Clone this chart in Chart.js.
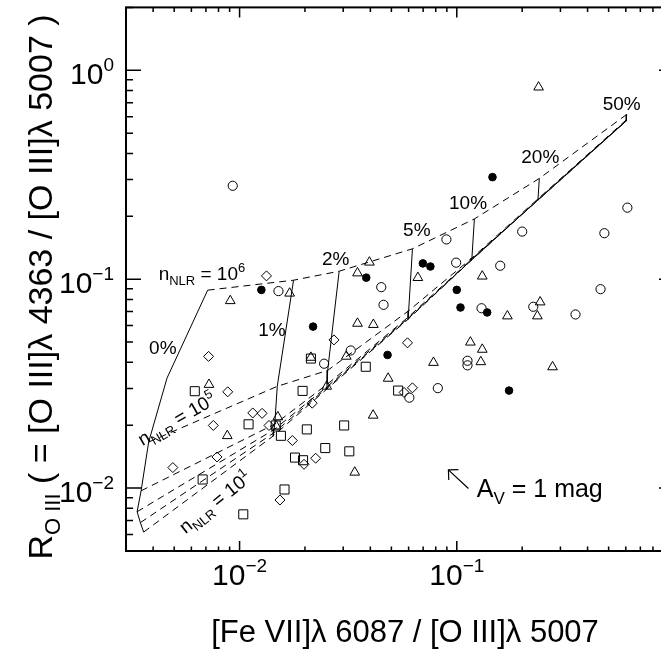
<!DOCTYPE html>
<html>
<head>
<meta charset="utf-8">
<script src="https://cdn.jsdelivr.net/npm/chart.js@4.4.0/dist/chart.umd.min.js"></script>
<style>
  html, body { margin: 0; padding: 0; background: #fff; overflow: hidden; }
  #wrap { width: 661px; height: 660px; overflow: hidden; }
</style>
</head>
<body>
<div id="wrap"><canvas id="chart" width="700" height="660"></canvas></div>
<script>
// axis ranges
const X_MIN = 0.003, X_MAX = 1;
const Y_MIN = 0.005, Y_MAX = 2;
const xLabelTicks = [0.01, 0.1];
const xLabelExp = ['\u22122', '\u22121'];
const yLabelTicks = [1, 0.1, 0.01];
const yLabelExp = ['0', '\u22121', '\u22122'];

// observed objects
const openCircleX = [0.0093, 0.0151, 0.0896, 0.0993, 0.0449, 0.0460, 0.130, 0.200, 0.610, 0.478, 0.1585, 0.459, 0.225, 0.352, 0.112, 0.112, 0.0818, 0.0605, 0.0245, 0.0325];
const openCircleY = [0.280, 0.0877, 0.155, 0.120, 0.0916, 0.0754, 0.0726, 0.169, 0.220, 0.166, 0.116, 0.0896, 0.0738, 0.0678, 0.0407, 0.0387, 0.0301, 0.0271, 0.0394, 0.0456];

const filledCircleX = [0.0126, 0.0383, 0.0698, 0.0756, 0.100, 0.104, 0.0218, 0.146, 0.138, 0.0480, 0.174];
const filledCircleY = [0.0889, 0.1017, 0.119, 0.115, 0.0889, 0.0732, 0.0593, 0.308, 0.0693, 0.0434, 0.0293];

const triangleX = [0.238, 0.00906, 0.0170, 0.0396, 0.0349, 0.0662, 0.131, 0.0349, 0.0413, 0.171, 0.242, 0.235, 0.1155, 0.131, 0.0781, 0.129, 0.276, 0.0483, 0.0412, 0.0339, 0.0310, 0.0213, 0.0252, 0.00723, 0.00878, 0.0150, 0.01475];
const triangleY = [0.830, 0.0788, 0.0856, 0.1205, 0.107, 0.1017, 0.1033, 0.0614, 0.0606, 0.0666, 0.0777, 0.0666, 0.0499, 0.0461, 0.0399, 0.0402, 0.038, 0.0335, 0.0223, 0.0119, 0.0427, 0.0422, 0.0307, 0.0313, 0.0178, 0.0219, 0.0198];

const diamondX = [0.0133, 0.0072, 0.00882, 0.00757, 0.0115, 0.0127, 0.01366, 0.00493, 0.00787, 0.01534, 0.0175, 0.0198, 0.0272, 0.0593, 0.0572, 0.0625, 0.0216, 0.0224];
const diamondY = [0.1037, 0.0427, 0.0289, 0.01995, 0.0229, 0.0228, 0.01995, 0.01254, 0.0141, 0.00877, 0.0169, 0.0130, 0.0512, 0.0496, 0.0287, 0.0302, 0.0255, 0.0139];

const squareX = [0.00622, 0.0110, 0.00676, 0.0104, 0.0161, 0.01467, 0.0155, 0.0180, 0.0195, 0.0204, 0.0196, 0.0213, 0.0381, 0.0537, 0.0303, 0.0248, 0.0320];
const squareY = [0.0291, 0.0202, 0.0110, 0.00749, 0.00985, 0.01995, 0.0178, 0.0140, 0.0292, 0.0191, 0.0136, 0.0417, 0.0381, 0.0293, 0.01995, 0.01555, 0.0150];

// model grid: fraction of high-density component, one row per n_NLR
const pctLabels = ['0%', '1%', '2%', '5%', '10%', '20%', '50%'];
const n6X = [0.00713, 0.01772, 0.02874, 0.0625, 0.1205, 0.2399, 0.6053];
const n6Y = [0.0886, 0.0989, 0.1092, 0.1398, 0.1943, 0.3037, 0.6146];
const n5X = [0.003815, 0.01491, 0.02544, 0.06003, 0.1174, 0.2366, 0.604];
const n5Y = [0.01662, 0.0307, 0.0366, 0.0706, 0.1263, 0.2425, 0.580];
const n4X = [0.003521, 0.01452, 0.0253, 0.0597, 0.1163, 0.2366, 0.6028];
const n4Y = [0.009708, 0.02024, 0.03138, 0.06577, 0.1238, 0.2406, 0.5748];
const n3X = [0.003375, 0.0144, 0.02523, 0.05964, 0.1162, 0.2366, 0.6022];
const n3Y = [0.00771, 0.01905, 0.03053, 0.06505, 0.1231, 0.2399, 0.5723];
const n2X = [0.003494, 0.01432, 0.02513, 0.05958, 0.1161, 0.2363, 0.6016];
const n2Y = [0.006837, 0.01834, 0.03003, 0.06457, 0.1227, 0.2391, 0.5711];
const n1X = [0.003618, 0.01426, 0.02505, 0.05952, 0.116, 0.2361, 0.6010];
const n1Y = [0.006159, 0.01774, 0.0296, 0.06414, 0.1225, 0.2388, 0.5698];
// extra vertex on the 0% curve between 10^6 and 10^5
const zeroBendX = 0.004634, zeroBendY = 0.03363;

// label positions (data coords)
const pctLabelX = [0.004432, 0.01409, 0.0277, 0.06546, 0.1127, 0.2424, 0.5745];
const pctLabelY = [0.04759, 0.05768, 0.127, 0.1736, 0.2351, 0.3896, 0.7009];
const avTip = [0.0915, 0.01222], avTail = [0.1131, 0.00996];

const FONT = "'Liberation Sans', Arial, Helvetica, sans-serif";

const densX = [n6X, n5X, n4X, n3X, n2X, n1X];
const densY = [n6Y, n5Y, n4Y, n3Y, n2Y, n1Y];

function pts(xs, ys) {
    return xs.map((x, i) => ({ x: x, y: ys[i] }));
}

let datasets = [];

// markers first so they sit on top of the model lines
const marker = { showLine: false, borderColor: '#000', borderWidth: 1, backgroundColor: 'rgba(0,0,0,0)' };
datasets.push(Object.assign({}, marker, { label: 'open', data: pts(openCircleX, openCircleY), pointStyle: 'circle', pointRadius: 4.6 }));
datasets.push(Object.assign({}, marker, { label: 'filled', data: pts(filledCircleX, filledCircleY), pointStyle: 'circle', pointRadius: 3.8, backgroundColor: '#000' }));
datasets.push(Object.assign({}, marker, { label: 'tri', data: pts(triangleX, triangleY), pointStyle: 'triangle', pointRadius: 5.6 }));
datasets.push(Object.assign({}, marker, { label: 'dia', data: pts(diamondX, diamondY), pointStyle: 'rectRot', pointRadius: 5 }));
datasets.push(Object.assign({}, marker, { label: 'sq', data: pts(squareX, squareY), pointStyle: 'rect', pointRadius: 6.4 }));

// dashed: constant density
densX.forEach((xs, k) => {
    datasets.push({
        label: 'n' + (6 - k), data: pts(xs, densY[k]), showLine: true, pointRadius: 0,
        borderColor: '#000', borderWidth: 1, borderDash: [7, 5], tension: 0, fill: false
    });
});

// solid: constant fraction
pctLabels.forEach((p, i) => {
    let line = [];
    densX.forEach((xs, k) => {
        line.push({ x: xs[i], y: densY[k][i] });
        if (i === 0 && k === 0) line.push({ x: zeroBendX, y: zeroBendY });
    });
    datasets.push({
        label: p, data: line, showLine: true, pointRadius: 0,
        borderColor: '#000', borderWidth: 1, tension: 0, fill: false
    });
});

function logTicks(min, max) {
    const out = [];
    for (let e = Math.floor(Math.log10(min)); e <= Math.ceil(Math.log10(max)); e++) {
        for (let m = 1; m <= 9; m++) {
            const v = m * Math.pow(10, e);
            if (v >= min * 0.999 && v <= max * 1.001) out.push({ v: v, major: m === 1 });
        }
    }
    return out;
}

// parts: [text, size, dy]
function rich(ctx, parts, x, y, align) {
    let w = 0;
    parts.forEach(p => { ctx.font = p[1] + 'px ' + FONT; w += ctx.measureText(p[0]).width; });
    let cx = align === 'center' ? x - w / 2 : (align === 'right' ? x - w : x);
    parts.forEach(p => {
        ctx.font = p[1] + 'px ' + FONT;
        ctx.fillText(p[0], cx, y + (p[2] || 0));
        cx += ctx.measureText(p[0]).width;
    });
}

const decor = {
    id: 'decor',
    afterDraw(chart) {
        const ctx = chart.ctx, a = chart.chartArea;
        const sx = chart.scales.x, sy = chart.scales.y;
        ctx.save();
        ctx.strokeStyle = '#000';
        ctx.fillStyle = '#000';
        ctx.textAlign = 'left';
        ctx.textBaseline = 'alphabetic';

        // inward ticks on all sides
        ctx.lineWidth = 1.5;
        ctx.beginPath();
        logTicks(X_MIN, X_MAX).forEach(t => {
            const px = sx.getPixelForValue(t.v);
            const len = t.major ? 10 : 4.5;
            ctx.moveTo(px, a.bottom); ctx.lineTo(px, a.bottom - len);
            ctx.moveTo(px, a.top); ctx.lineTo(px, a.top + len);
        });
        logTicks(Y_MIN, Y_MAX).forEach(t => {
            const py = sy.getPixelForValue(t.v);
            const len = t.major ? 15 : 7;
            ctx.moveTo(a.left, py); ctx.lineTo(a.left + len, py);
            ctx.moveTo(a.right, py); ctx.lineTo(a.right - len, py);
        });
        ctx.stroke();
        ctx.lineWidth = 2;
        ctx.strokeRect(a.left, a.top, a.right - a.left, a.bottom - a.top);

        // tick labels
        xLabelTicks.forEach((v, i) => {
            rich(ctx, [['10', 30], [xLabelExp[i], 19, -13]], sx.getPixelForValue(v), a.bottom + 34, 'center');
        });
        yLabelTicks.forEach((v, i) => {
            rich(ctx, [['10', 30], [yLabelExp[i], 19, -13]], a.left - 12, sy.getPixelForValue(v) + 14, 'right');
        });

        // axis titles
        rich(ctx, [['[Fe VII]\u03bb 6087 / [O III]\u03bb 5007', 31]], 405, 642, 'center');
        ctx.save();
        ctx.translate(52, 287);
        ctx.rotate(-Math.PI / 2);
        rich(ctx, [['R', 34], ['O III', 22, 8], [' ( = [O III]\u03bb 4363 / [O III]\u03bb 5007 )', 34]], 0, 0, 'center');
        ctx.restore();

        // fraction labels
        pctLabels.forEach((p, i) => {
            rich(ctx, [[p, 19]], sx.getPixelForValue(pctLabelX[i]), sy.getPixelForValue(pctLabelY[i]) + 7, 'center');
        });

        // density labels
        rich(ctx, [['n', 19], ['NLR', 13, 5], [' = 10', 19], ['6', 13, -8]],
            sx.getPixelForValue(0.00424), sy.getPixelForValue(0.0989), 'left');
        [[0.005152, 0.02131, -30, '5'], [0.00773, 0.00854, -39, '1']].forEach(l => {
            ctx.save();
            ctx.translate(sx.getPixelForValue(l[0]), sy.getPixelForValue(l[1]));
            ctx.rotate(l[2] * Math.PI / 180);
            rich(ctx, [['n', 19], ['NLR', 13, 5], [' = 10', 19], [l[3], 13, -8]], 0, 6, 'center');
            ctx.restore();
        });

        // reddening vector
        const tx = sx.getPixelForValue(avTip[0]), ty = sy.getPixelForValue(avTip[1]);
        const ex = sx.getPixelForValue(avTail[0]), ey = sy.getPixelForValue(avTail[1]);
        const ang = Math.atan2(ey - ty, ex - tx);
        ctx.lineWidth = 1.2;
        ctx.beginPath();
        ctx.moveTo(ex, ey); ctx.lineTo(tx, ty);
        ctx.moveTo(tx + 10 * Math.cos(ang - Math.PI / 4), ty + 10 * Math.sin(ang - Math.PI / 4));
        ctx.lineTo(tx, ty);
        ctx.lineTo(tx + 10 * Math.cos(ang + Math.PI / 4), ty + 10 * Math.sin(ang + Math.PI / 4));
        ctx.stroke();
        rich(ctx, [['A', 25], ['V', 17, 7], [' = 1 mag', 25]],
            sx.getPixelForValue(0.1236), sy.getPixelForValue(0.00902), 'left');

        ctx.restore();
    }
};

new Chart(document.getElementById('chart'), {
    type: 'scatter',
    data: { datasets: datasets },
    options: {
        responsive: false,
        devicePixelRatio: 1,
        animation: false,
        events: [],
        layout: { padding: { left: 126, right: 26, top: 4, bottom: 109 } },
        plugins: { legend: { display: false }, tooltip: { enabled: false } },
        scales: {
            x: { type: 'logarithmic', min: X_MIN, max: X_MAX, display: false },
            y: { type: 'logarithmic', min: Y_MIN, max: Y_MAX, display: false }
        }
    },
    plugins: [decor]
});
</script>
</body>
</html>
